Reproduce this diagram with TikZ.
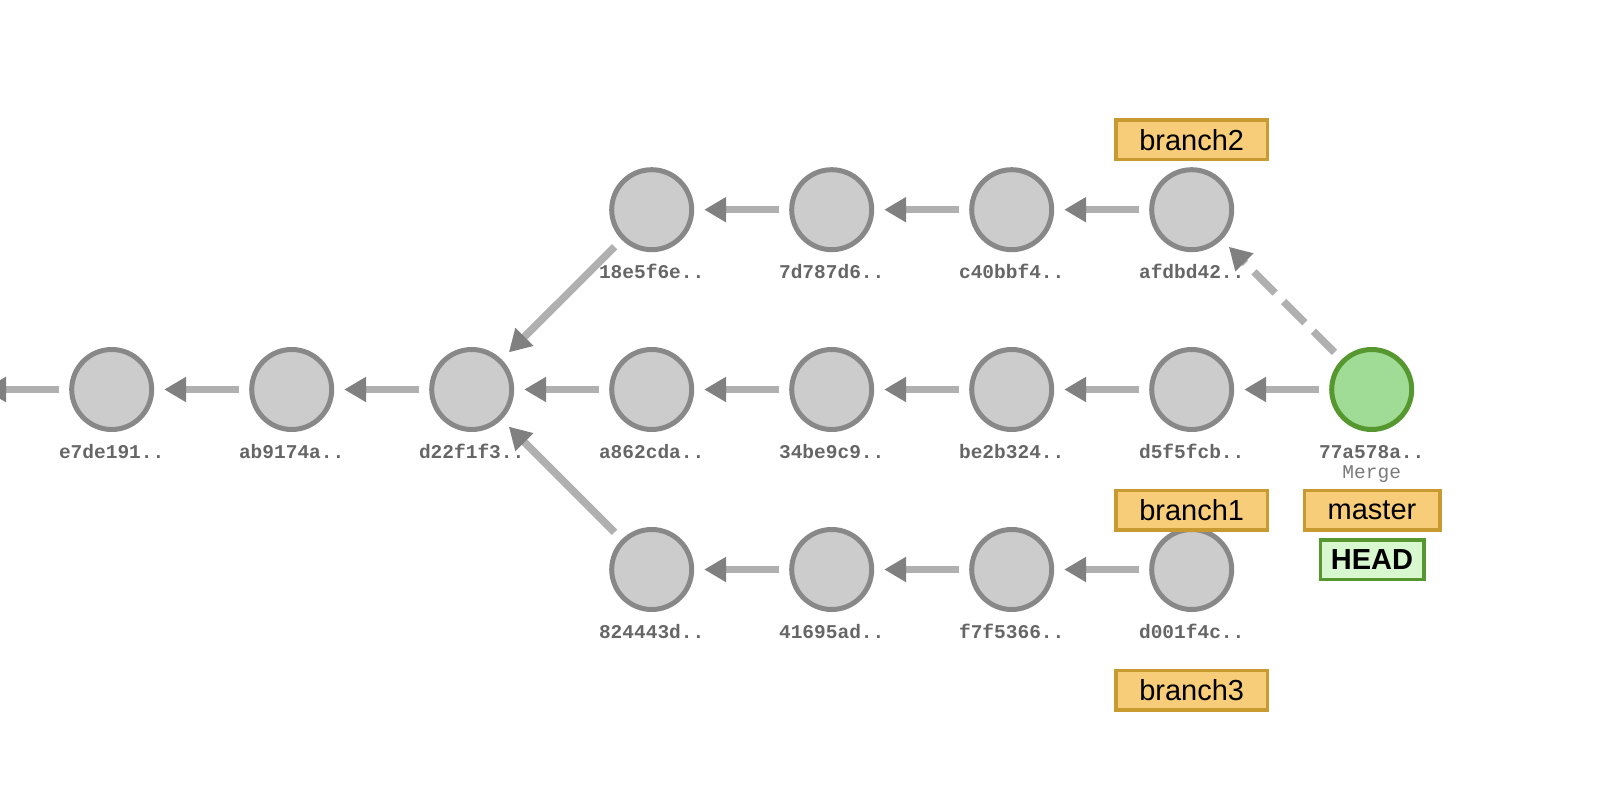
\documentclass[tikz,border=0pt]{standalone}
\usepackage{fontspec}
\setmainfont{Liberation Sans}
\newfontfamily\hashmono{Liberation Mono}
\usetikzlibrary{arrows.meta}
\definecolor{cfill}{HTML}{CCCCCC}
\definecolor{cstroke}{HTML}{888888}
\definecolor{mfill}{HTML}{A0DC96}
\definecolor{mstroke}{HTML}{56982F}
\definecolor{linegray}{HTML}{B0B0B0}
\definecolor{tipgray}{HTML}{808080}
\definecolor{hashgray}{HTML}{666666}
\definecolor{msggray}{HTML}{7A7A7A}
\definecolor{bfill}{HTML}{F8CD7A}
\definecolor{bstroke}{HTML}{C89A30}
\definecolor{hfill}{HTML}{D8F8D0}
\definecolor{hstroke}{HTML}{56982F}
\tikzset{
  commit/.style={circle, draw=cstroke, fill=cfill, line width=5pt, minimum size=80pt, inner sep=0pt},
  mergecommit/.style={commit, draw=mstroke, fill=mfill},
  hash/.style={font=\hashmono\bfseries\fontsize{19.5}{20}\selectfont, text=hashgray, inner sep=0pt, anchor=base},
  msg/.style={font=\hashmono\fontsize{19.5}{20}\selectfont, text=msggray, inner sep=0pt, anchor=base},
  edge/.style={draw=linegray, line width=7.5pt, shorten <=10pt, shorten >=10pt,
    -{Triangle[length=22pt, width=24pt, color=tipgray]}},
  dashededge/.style={edge, dash pattern=on 30pt off 12pt},
  branchbox/.style={draw=bstroke, fill=bfill, line width=3.5pt, minimum width=151.5pt,
    minimum height=39.5pt, inner sep=0pt, font=\fontsize{29}{30}\selectfont},
  masterbox/.style={branchbox, minimum width=135.5pt},
  headbox/.style={branchbox, draw=hstroke, fill=hfill, minimum width=103.5pt,
    font=\bfseries\fontsize{29}{30}\selectfont},
}
\begin{document}
\begin{tikzpicture}[x=1pt, y=-1pt]
\useasboundingbox (0,0) rectangle (1600,810);
\clip (0,0) rectangle (1600,810);
% row 1
\node[commit] (c18) at (651.7,209.7) {};
\node[commit] (c7d) at (831.7,209.7) {};
\node[commit] (cc4) at (1011.7,209.7) {};
\node[commit] (caf) at (1191.7,209.7) {};
% row 2
\node[commit] (ce7) at (111.7,389.5) {};
\node[commit] (cab) at (291.7,389.5) {};
\node[commit] (cd2) at (471.7,389.5) {};
\node[commit] (ca8) at (651.7,389.5) {};
\node[commit] (c34) at (831.7,389.5) {};
\node[commit] (cbe) at (1011.7,389.5) {};
\node[commit] (cd5) at (1191.7,389.5) {};
\node[mergecommit] (c77) at (1371.7,389.5) {};
% row 3
\node[commit] (c82) at (651.7,569.5) {};
\node[commit] (c41) at (831.7,569.5) {};
\node[commit] (cf7) at (1011.7,569.5) {};
\node[commit] (cd0) at (1191.7,569.5) {};
\coordinate (offleft) at (0,389.5);

% hash labels
\node[hash] (l18) at (651.7,278.7) {18e5f6e..};
\node[hash] (l7d) at (831.7,278.7) {7d787d6..};
\node[hash] (lc4) at (1011.7,278.7) {c40bbf4..};
\node[hash] (laf) at (1191.7,278.7) {afdbd42..};
\node[hash] (le7) at (111.7,458.5) {e7de191..};
\node[hash] (lab) at (291.7,458.5) {ab9174a..};
\node[hash] (ld2) at (471.7,458.5) {d22f1f3..};
\node[hash] (la8) at (651.7,458.5) {a862cda..};
\node[hash] (l34) at (831.7,458.5) {34be9c9..};
\node[hash] (lbe) at (1011.7,458.5) {be2b324..};
\node[hash] (ld5) at (1191.7,458.5) {d5f5fcb..};
\node[hash] (l77) at (1371.7,458.5) {77a578a..};
\node[msg] (m77) at (1371.7,478) {Merge};
\node[hash] (l82) at (651.7,638.5) {824443d..};
\node[hash] (l41) at (831.7,638.5) {41695ad..};
\node[hash] (lf7) at (1011.7,638.5) {f7f5366..};
\node[hash] (ld0) at (1191.7,638.5) {d001f4c..};

% branch labels
\node[branchbox] (b2) at (1191.7,140) {branch2};
\node[branchbox] (b1) at (1191.7,510) {branch1};
\node[branchbox] (b3) at (1191.7,690) {branch3};
\node[masterbox] (bm) at (1372,510) {master};
\node[headbox] (bh) at (1372,559.5) {HEAD};

% edges
\draw[edge, shorten >=-16pt] (ce7) -- (offleft);
\draw[edge] (cab) -- (ce7);
\draw[edge] (cd2) -- (cab);
\draw[edge] (ca8) -- (cd2);
\draw[edge] (c34) -- (ca8);
\draw[edge] (cbe) -- (c34);
\draw[edge] (cd5) -- (cbe);
\draw[edge] (c77) -- (cd5);
\draw[edge] (c18) -- (cd2);
\draw[edge] (c7d) -- (c18);
\draw[edge] (cc4) -- (c7d);
\draw[edge] (caf) -- (cc4);
\draw[edge] (c82) -- (cd2);
\draw[edge] (c41) -- (c82);
\draw[edge] (cf7) -- (c41);
\draw[edge] (cd0) -- (cf7);
\draw[dashededge] (c77) -- (caf);
\end{tikzpicture}
\end{document}
